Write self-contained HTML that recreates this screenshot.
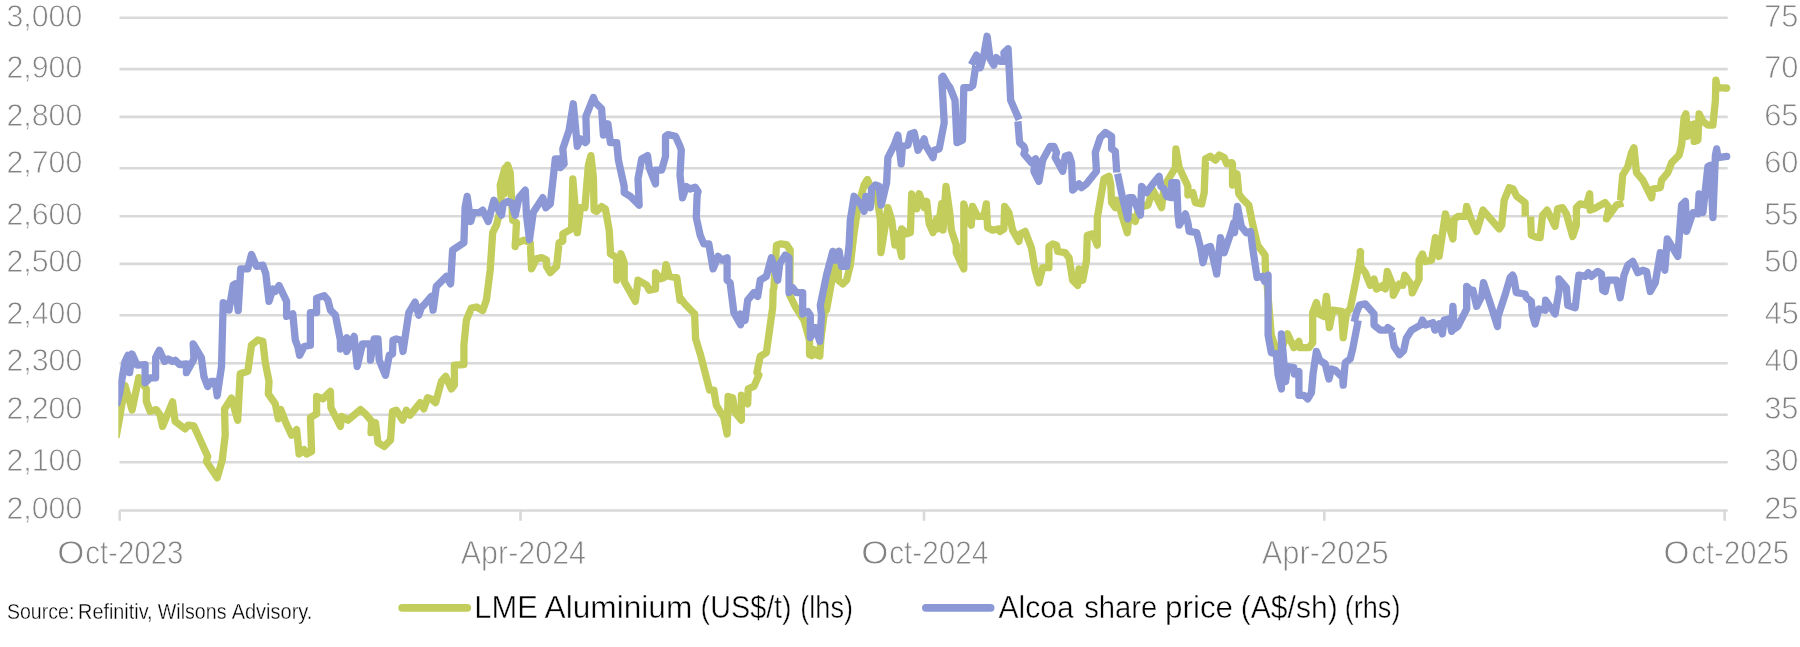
<!DOCTYPE html>
<html><head><meta charset="utf-8"><title>Chart</title>
<style>
html,body{margin:0;padding:0;background:#fff;}
body{width:1800px;height:647px;overflow:hidden;font-family:"Liberation Sans",sans-serif;}
svg{display:block;}
text{font-family:"Liberation Sans",sans-serif;filter:grayscale(1);}
.ax{fill:#828282;font-size:31.5px;stroke:#fff;stroke-width:0.8px;}
.xl{fill:#828282;font-size:32.8px;stroke:#fff;stroke-width:0.8px;}
.lg{fill:#000;font-size:30.7px;stroke:#fff;stroke-width:0.45px;}
.src{fill:#000;font-size:21.8px;stroke:#fff;stroke-width:0.35px;}
</style></head><body>
<svg width="1800" height="647" viewBox="0 0 1800 647">
<rect width="1800" height="647" fill="#ffffff"/>
<defs><clipPath id="pc"><rect x="118.3" y="0" width="1612" height="520"/></clipPath></defs>
<g stroke="#d9d9d9" stroke-width="2.6" fill="none">
<line x1="119.5" y1="17.7" x2="1727.7" y2="17.7"/>
<line x1="119.5" y1="69.1" x2="1727.7" y2="69.1"/>
<line x1="119.5" y1="116.9" x2="1727.7" y2="116.9"/>
<line x1="119.5" y1="168.3" x2="1727.7" y2="168.3"/>
<line x1="119.5" y1="216.2" x2="1727.7" y2="216.2"/>
<line x1="119.5" y1="263.9" x2="1727.7" y2="263.9"/>
<line x1="119.5" y1="315.3" x2="1727.7" y2="315.3"/>
<line x1="119.5" y1="363.3" x2="1727.7" y2="363.3"/>
<line x1="119.5" y1="414.7" x2="1727.7" y2="414.7"/>
<line x1="119.5" y1="462.3" x2="1727.7" y2="462.3"/>
<line x1="119.5" y1="510.5" x2="1727.7" y2="510.5"/>
<line x1="119.7" y1="510.5" x2="119.7" y2="520.8"/>
<line x1="520.5" y1="510.5" x2="520.5" y2="520.8"/>
<line x1="924" y1="510.5" x2="924" y2="520.8"/>
<line x1="1324.3" y1="510.5" x2="1324.3" y2="520.8"/>
<line x1="1724.6" y1="510.5" x2="1724.6" y2="520.8"/>
</g>
<text class="ax" x="6.50" y="26.7" textLength="75.80" lengthAdjust="spacingAndGlyphs">3,000</text>
<text class="ax" x="1764.18" y="26.7" textLength="34.36" lengthAdjust="spacingAndGlyphs">75</text>
<text class="ax" x="6.50" y="78.0" textLength="75.80" lengthAdjust="spacingAndGlyphs">2,900</text>
<text class="ax" x="1764.18" y="78.0" textLength="34.36" lengthAdjust="spacingAndGlyphs">70</text>
<text class="ax" x="6.50" y="125.6" textLength="75.80" lengthAdjust="spacingAndGlyphs">2,800</text>
<text class="ax" x="1764.18" y="125.6" textLength="34.36" lengthAdjust="spacingAndGlyphs">65</text>
<text class="ax" x="6.50" y="172.8" textLength="75.80" lengthAdjust="spacingAndGlyphs">2,700</text>
<text class="ax" x="1764.18" y="172.8" textLength="34.36" lengthAdjust="spacingAndGlyphs">60</text>
<text class="ax" x="6.50" y="224.5" textLength="75.80" lengthAdjust="spacingAndGlyphs">2,600</text>
<text class="ax" x="1764.18" y="224.5" textLength="34.36" lengthAdjust="spacingAndGlyphs">55</text>
<text class="ax" x="6.50" y="272.3" textLength="75.80" lengthAdjust="spacingAndGlyphs">2,500</text>
<text class="ax" x="1764.18" y="272.3" textLength="34.36" lengthAdjust="spacingAndGlyphs">50</text>
<text class="ax" x="6.50" y="324.0" textLength="75.80" lengthAdjust="spacingAndGlyphs">2,400</text>
<text class="ax" x="1764.80" y="324.0" textLength="34.10" lengthAdjust="spacingAndGlyphs">45</text>
<text class="ax" x="6.50" y="371.1" textLength="75.80" lengthAdjust="spacingAndGlyphs">2,300</text>
<text class="ax" x="1764.80" y="371.1" textLength="34.10" lengthAdjust="spacingAndGlyphs">40</text>
<text class="ax" x="6.50" y="419.2" textLength="75.80" lengthAdjust="spacingAndGlyphs">2,200</text>
<text class="ax" x="1764.18" y="419.2" textLength="34.36" lengthAdjust="spacingAndGlyphs">35</text>
<text class="ax" x="6.50" y="471.1" textLength="75.80" lengthAdjust="spacingAndGlyphs">2,100</text>
<text class="ax" x="1764.18" y="471.1" textLength="34.36" lengthAdjust="spacingAndGlyphs">30</text>
<text class="ax" x="6.50" y="519.4" textLength="75.80" lengthAdjust="spacingAndGlyphs">2,000</text>
<text class="ax" x="1764.18" y="519.4" textLength="34.36" lengthAdjust="spacingAndGlyphs">25</text>
<text class="xl" x="57.20" y="563.6" textLength="27.18" lengthAdjust="spacingAndGlyphs">O</text>
<text class="xl" x="85.20" y="563.6" textLength="98.30" lengthAdjust="spacingAndGlyphs">ct-2023</text>
<text class="xl" x="460.76" y="563.6" textLength="125.30" lengthAdjust="spacingAndGlyphs">Apr-2024</text>
<text class="xl" x="861.20" y="563.6" textLength="27.18" lengthAdjust="spacingAndGlyphs">O</text>
<text class="xl" x="889.20" y="563.6" textLength="99.00" lengthAdjust="spacingAndGlyphs">ct-2024</text>
<text class="xl" x="1261.77" y="563.6" textLength="127.01" lengthAdjust="spacingAndGlyphs">Apr-2025</text>
<text class="xl" x="1663.50" y="563.6" textLength="26.00" lengthAdjust="spacingAndGlyphs">O</text>
<text class="xl" x="1691.50" y="563.6" textLength="97.50" lengthAdjust="spacingAndGlyphs">ct-2025</text>
<text class="src" x="6.94" y="618.6" textLength="67.40" lengthAdjust="spacingAndGlyphs">Source:</text>
<text class="src" x="78.10" y="618.6" textLength="74.50" lengthAdjust="spacingAndGlyphs">Refinitiv,</text>
<text class="src" x="157.73" y="618.6" textLength="68.79" lengthAdjust="spacingAndGlyphs">Wilsons</text>
<text class="src" x="231.66" y="618.6" textLength="80.77" lengthAdjust="spacingAndGlyphs">Advisory.</text>
<text class="lg" x="474.34" y="617.8" textLength="63.60" lengthAdjust="spacingAndGlyphs">LME</text>
<text class="lg" x="544.56" y="617.8" textLength="147.79" lengthAdjust="spacingAndGlyphs">Aluminium</text>
<text class="lg" x="700.60" y="617.8" textLength="91.10" lengthAdjust="spacingAndGlyphs">(US$/t)</text>
<text class="lg" x="800.30" y="617.8" textLength="52.70" lengthAdjust="spacingAndGlyphs">(lhs)</text>
<text class="lg" x="998.49" y="617.8" textLength="75.20" lengthAdjust="spacingAndGlyphs">Alcoa</text>
<text class="lg" x="1084.13" y="617.8" textLength="73.17" lengthAdjust="spacingAndGlyphs">share</text>
<text class="lg" x="1165.03" y="617.8" textLength="68.02" lengthAdjust="spacingAndGlyphs">price</text>
<text class="lg" x="1240.80" y="617.8" textLength="96.90" lengthAdjust="spacingAndGlyphs">(A$/sh)</text>
<text class="lg" x="1344.80" y="617.8" textLength="55.60" lengthAdjust="spacingAndGlyphs">(rhs)</text>
<line x1="402.2" y1="607.8" x2="467.2" y2="607.8" stroke="#c2cd5c" stroke-width="7.8" stroke-linecap="round"/>
<line x1="925.9" y1="607.8" x2="990.6" y2="607.8" stroke="#8c98d5" stroke-width="7.8" stroke-linecap="round"/>
<path clip-path="url(#pc)" d="M116,437.7 L119,421.4 L125,385.6 L132.1,410.1 L138.8,377.6 L146.3,388.9 L146.3,401.4 L150.1,411.4 L156.3,409.6 L160.1,415.1 L162.6,426.4 L172.6,401.9 L175.1,421.4 L180.1,425.2 L185.1,428.9 L188.2,425.2 L193.9,425.9 L207.7,456.5 L206.4,461.5 L217.2,477.8 L222.2,460.2 L225.2,435.2 L224.5,408.9 L231.5,398.1 L237.7,420.2 L240.2,373.8 L247.8,371.3 L251.5,345 L257.8,340 L262.8,341.3 L265.3,362.6 L269,381.3 L268.3,393.9 L275.3,403.9 L278.3,418.9 L280.8,409.6 L285.3,421.4 L291.6,435.2 L296.6,429.7 L299.1,454 L304.1,449.7 L306.6,454 L311.6,451.5 L310.4,417.7 L316.6,413.9 L316.6,396.4 L322.9,398.9 L330.4,391.4 L330.9,407.6 L340.4,426.4 L341.7,416.4 L347.9,420.2 L360.5,409.6 L365.5,413.9 L371.7,421.4 L371,432.7 L375.5,422.7 L378,442.7 L384.2,446.5 L390.5,440.2 L392.5,411.4 L396.3,410.2 L402.5,420.2 L406.3,410.2 L410.1,415.2 L420.1,402.7 L423.8,408.9 L427.6,397.7 L431.3,398.9 L435.6,402.7 L441.4,381.4 L445.6,376.4 L451.4,388.9 L454.4,385.1 L454.4,365.1 L463.9,364.6 L463.9,345.1 L466.4,320 L471.4,308 L476.4,307 L482.7,310.5 L486.4,300 L490.2,270.1 L492.7,232.6 L496.5,225 L501.5,205 L500.2,185.2 L505,167.9 L504.2,193.9 L507.7,165.1 L510.2,172.6 L512.7,220.2 L516.5,222.7 L515.2,246.5 L515.2,243.8 L524,240.1 L530.3,242.6 L531.5,268.9 L536.5,258.9 L541.5,257.6 L546.5,260.1 L546.5,266.4 L550.3,272.6 L556.6,266.4 L559.1,242.6 L562.8,241.3 L562.8,233.8 L571.6,228.8 L571.6,229 L572.8,178.9 L577.3,232.7 L580.4,207.7 L584.9,207.7 L588.4,165.1 L590.9,155.6 L593.4,177.7 L594.1,210.2 L596.6,211.5 L601.6,206.5 L605.4,209 L609.2,230.2 L610.4,250.3 L610.4,253.8 L616.7,257.6 L616.7,280.1 L620.9,253.8 L624.2,262.6 L624.2,281.4 L635.4,301.4 L638,280.1 L646.7,285.1 L649.2,290.2 L655.5,288.9 L655.5,272.6 L660.5,278.9 L664.2,277.6 L666,264.6 L669.3,276.4 L676.8,277.6 L680,300.2 L679.5,296.5 L683.8,302.7 L694.6,314 L694.6,313.8 L695.6,338.8 L700.6,355.1 L709.6,390.2 L713.8,390.2 L716.3,405.2 L723.9,417.7 L727.1,434 L728.1,396.4 L732.6,397.7 L735.1,412.7 L741.4,420.2 L741.4,395.2 L747.7,403.9 L748.2,388.9 L753.9,386.4 L758.9,375.1 L756.9,372.6 L760.2,356.4 L766.4,352.6 L770.2,325.1 L772.7,307.5 L773.2,290 L773.9,287.7 L776.5,245.1 L780.2,243.9 L786.5,244.6 L790.2,250.1 L789.7,295.2 L795.2,306.5 L804,320.3 L809.5,340.1 L809.5,354.6 L811.8,355.6 L814,349.6 L815.8,354.6 L819.8,356.1 L820.8,340.1 L824,315 L828.3,290 L826.5,310.2 L832.8,275.2 L835.3,252.6 L839.1,251.4 L838.3,280.2 L842.8,283.9 L846.6,280.2 L850.3,265.2 L854.1,232.6 L857.8,207.6 L864.1,185 L867.4,179.5 L870.4,186.3 L877.9,202.6 L880.4,220.1 L880.9,252.6 L884.1,232.6 L887.9,207.6 L891.7,220.1 L894.9,245.1 L896.7,233.9 L901.7,256.4 L901.7,228.9 L906.7,233.9 L910.4,232.6 L911.7,193.8 L916.7,208.8 L919.2,193.8 L924.2,207.6 L926.7,201.3 L929.2,223.8 L933,232.6 L936.7,218.8 L938,228.9 L941.7,203.8 L943,230.1 L946,186.3 L950,215.1 L951.3,230.2 L956.3,245.2 L956.3,252.7 L963.8,269 L963.8,203.9 L967,215.1 L971.3,225.2 L972.6,206.4 L977.6,216.4 L983.8,216.4 L986.3,203.9 L987.6,227.7 L992.6,230.2 L998.9,228.9 L1000.1,231.4 L1003.9,228.9 L1004.6,206.4 L1008.9,212.6 L1012.6,230.2 L1018.9,241.4 L1020.1,233.9 L1025.1,231.4 L1031.4,247.7 L1035.2,270.2 L1038.9,282.8 L1042.7,267.7 L1048.9,267.7 L1048.9,246.5 L1052.7,243.9 L1056.5,245.2 L1057.7,251.5 L1065.2,252.7 L1069,257.7 L1072.7,280.3 L1077.7,285.3 L1079,269 L1082.7,280.3 L1086.5,260.2 L1087.3,235.2 L1092.8,233.9 L1097.3,245.2 L1097.3,217.7 L1104,178.8 L1109,176.3 L1110.8,185.1 L1111.6,202.6 L1115.3,207.6 L1116.6,200.1 L1120.3,210.1 L1127.3,232.7 L1129.1,215.1 L1135.3,221.4 L1139.1,207.6 L1142.9,206.4 L1147.9,205.1 L1152.9,190.1 L1161.6,207.6 L1164.1,186.3 L1175.4,167.6 L1175.9,148.8 L1179.2,167.6 L1187.9,186.3 L1187.9,195.1 L1192.9,192.6 L1195.4,202.6 L1201.7,203.9 L1204.2,192.6 L1205.5,158.8 L1210.5,156.3 L1215.5,160.1 L1219.2,155 L1224.2,157.5 L1226.8,163.8 L1231.8,162.6 L1232.5,163.8 L1232.5,185.1 L1237,173.8 L1238.8,193.9 L1242.5,198.9 L1248.8,205.1 L1252.6,223.9 L1257.6,245.2 L1265.1,255.2 L1265.6,274 L1266.3,275 L1271.3,335.1 L1276.3,350.2 L1281.4,348.9 L1287.6,333.9 L1293.9,347.7 L1298.9,341.4 L1300.1,347.7 L1308.9,347.7 L1312.7,342.7 L1312.7,312.6 L1316.4,302.6 L1318.9,313.9 L1323.9,316.4 L1326.4,296.3 L1329.4,327.6 L1332.7,310.1 L1341.5,311.4 L1343.2,337.7 L1346.5,312.6 L1350.2,308.9 L1356.5,277.5 L1360.7,252.5 L1360.2,251.5 L1360.7,266.5 L1365.3,272.7 L1370.3,285.3 L1374,279 L1376.5,289 L1382.8,285.3 L1385.3,289 L1387.3,271.5 L1392.8,285.3 L1393.3,295.3 L1399.1,284 L1402.8,285.3 L1404.8,275.3 L1411.6,285.3 L1412.3,292.8 L1419.1,279 L1419.1,260.2 L1422.4,254 L1424.1,259 L1425.4,261.5 L1431.6,260.2 L1435.4,237.7 L1439.1,256.5 L1445.4,213.9 L1452.9,238.9 L1454.2,218.9 L1457.9,216.4 L1465.4,216.4 L1466.7,206.4 L1470.4,217.7 L1476.7,231.4 L1483,210.1 L1499.2,228.9 L1501.7,225.2 L1504.2,200.1 L1509.3,187.6 L1513,188.9 L1516.8,196.4 L1525.1,202.6 L1525.3,216.6 M1530.6,216.6 L1531.3,235.1 L1536.3,237.1 L1540.1,237.6 L1542.6,215.1 L1547.1,210.1 L1555.1,226.3 L1557.6,208.8 L1562.6,207.6 L1566.4,213.8 L1572.7,236.4 L1576.4,225.1 L1576.4,207.6 L1580.2,203.8 L1586.4,205.1 L1589.7,193.8 L1590.2,210.1 L1593.9,208.8 L1602.7,203.8 L1605.2,202.6 L1609,207.6 L1606.5,218.8 L1616.5,205.1 L1623.3,203.1 M1620.5,200.1 L1622.7,175.2 L1627.8,166.5 L1631.5,152.7 L1634,147.7 L1636.5,172.7 L1642.8,180.2 L1651.6,197.8 L1652.8,189 L1660.3,187.7 L1661.6,180.2 L1667.8,172.7 L1671.6,162.7 L1679.1,155.2 L1681.6,145.2 L1684.1,117.6 L1685.9,113.9 L1687.4,136.4 L1690.4,125.1 L1694.1,123.9 L1694.1,141.4 L1697.9,140.2 L1699.1,113.9 L1702.9,121.4 L1707.9,125.1 L1712.9,125.1 L1715.4,100.1 L1715.9,80.1 L1717.4,87.6 L1726.7,88.1" fill="none" stroke="#c2cd5c" stroke-width="7.3" stroke-linejoin="round" stroke-linecap="butt"/>
<circle cx="1726.7" cy="88.1" r="3.65" fill="#c2cd5c"/>
<path clip-path="url(#pc)" d="M116.5,405.3 L119.5,393.8 L125,361.5 L128,355.2 L129.6,372.7 L132.1,354 L137.1,365.2 L145.1,364.7 L145.1,382.8 L150.1,377.8 L155.6,377.8 L155.6,357.7 L159.4,350.2 L164.6,361.5 L168.1,359 L172.6,361.5 L175.1,360.2 L179.6,364.7 L186.4,364 L186.4,372.7 L193.9,359 L193.2,343.9 L201.4,357.7 L203.9,376.5 L207.7,386.5 L211.4,381.5 L215.2,381.5 L217.2,395.8 L221.5,366.5 L223.2,302.6 L229,306.4 L229,310.1 L233.2,285.1 L235.2,283.8 L238.2,310.6 L240.7,268.8 L247.8,268.8 L251.5,254.5 L256.5,266.3 L262.8,265.1 L265.8,273.8 L269,301.4 L272.8,288.9 L275.3,291.4 L279.1,285.6 L286.6,301.4 L286.6,316.4 L290.3,315.1 L292.8,313.9 L295.3,340.2 L297.8,346.5 L299.6,355.2 L304.1,346.5 L310.4,345.2 L310.4,312.6 L316.6,312.6 L316.6,298.1 L324.1,295.6 L327.9,300.1 L330.4,310.1 L335.4,315.1 L340.4,340.2 L340.4,349 L346.7,337.7 L346.7,351.5 L354.2,336.4 L357.2,366.5 L362.5,343.9 L370.5,343.9 L370.5,360.2 L374.2,338.9 L378,338.9 L379.2,360.2 L385.5,375.3 L389.3,355.2 L392.5,354 L393,340.2 L396.3,339 L401.3,340.2 L403,351.5 L408.8,312.7 L415.1,302.2 L418.8,315.2 L421.3,307.7 L423.8,305.2 L431.3,296.4 L433.1,310.2 L436.3,286.4 L441.4,281.4 L446.4,276.4 L450.6,283.9 L452.6,250.1 L463.9,242.6 L465.1,207.5 L467.2,196.4 L470.7,221.5 L473.2,212.7 L478.9,212.7 L482.7,210.2 L488.2,221.5 L493.9,200.2 L497.2,207.7 L501.5,215.2 L503.2,203.9 L507.7,201.4 L511.5,202.7 L515.2,215.2 L519,197.7 L525.3,190.2 L526.5,215.2 L529.5,239.8 L533.3,212.2 L542.8,197.7 L545.8,207.7 L550.3,203.9 L555.3,158.9 L559.1,158.9 L560.3,167.6 L564.1,163.9 L562.8,148.9 L569.1,130.1 L573.3,103.8 L577.3,146.3 L580.4,138.8 L585.4,142.6 L586.6,141.3 L585.9,116.3 L593.4,97.5 L595.4,102.5 L601.6,108.8 L603.4,135.1 L607.9,123.8 L610.4,142.6 L616.7,142.6 L618.4,160.1 L624.2,186.4 L624.2,192.7 L630.4,196.4 L639.2,205.2 L638,178.9 L641.7,158.9 L647.5,155.6 L649.2,167.6 L655.5,183.9 L655.5,170.1 L661.7,170.1 L665.5,156.4 L665.5,136.3 L668,134.6 L675.5,136.3 L680,146.3 L681.3,150.2 L680,175.2 L682.5,197.8 L686.3,186.5 L690.1,189 L695.1,187.2 L698.1,191.5 L697.1,195 L696.3,217.6 L700.1,235.1 L703.8,243.9 L708.8,243.9 L713.1,268.9 L718.1,256.4 L722.1,260.2 L727.1,257.7 L727.1,280.2 L730.1,282.7 L733.9,312.7 L740.6,324.8 L740.6,314 L745.1,320.3 L747.7,300.2 L753.9,292.7 L757.7,296.5 L760.2,280.2 L766.4,276.4 L771.4,257.7 L777.7,280.2 L779.7,263.9 L785.2,255.1 L789,257.7 L789,292.7 L792.7,287.7 L796.5,292.7 L802.7,292.7 L802.7,314 L807.8,311.5 L810.3,315.3 L810.3,337.6 L815.3,327.6 L819.8,341.3 L821.5,315 L820.3,305.2 L826.5,275.2 L832.8,251.4 L835.3,260.2 L839.1,251.4 L841.6,266.4 L846.6,266.4 L849.1,245.1 L850.3,220.1 L854.1,196.3 L860.4,203.8 L864.1,211.3 L865.9,196.3 L870.4,207.6 L871.6,188.8 L875.4,185 L879.1,186.3 L881.1,205.1 L881.6,204 L886.6,182.7 L887.9,157.7 L894.2,145.2 L897.9,135.1 L901.2,163.9 L902.4,146.4 L907.9,145.2 L910.4,133.9 L914.2,132.6 L918,150.2 L924.2,138.9 L925.5,145.2 L933,157.7 L934.2,150.2 L939.2,148.9 L944.2,122.6 L941.7,77.5 L943,76.3 L948,85.1 L950,87.6 L955,100.1 L957,142.7 L962.5,140.2 L963.8,87.6 L970.1,87.6 L972.8,85.6 L975.8,65.8 M971.3,64.8 L976.6,55.1 L980.3,67.8 L983.8,55.1 L987.1,36.3 L990.1,58.8 L993.8,65.1 L996.3,57.6 L1000.1,61.3 L1004.6,61.3 L1003.9,52.6 L1008.1,48.8 L1009.6,77.6 L1010.6,100.1 L1019.1,119.7 M1017.9,121.4 L1019.6,142.7 L1023.9,146.5 L1025.1,150.2 L1023.9,153.8 L1031.4,162.6 L1035.7,158.8 L1033.9,171.3 L1038.9,181.3 L1042.7,160.1 L1050.2,146.3 L1053.9,146.3 L1056.5,152.5 L1055.2,157.5 L1062.7,171.3 L1065.2,156.3 L1069,155 L1071.5,162.6 L1072.7,190.1 L1079,183.8 L1081.5,187.6 L1086.5,183.8 L1096.5,171.3 L1095.3,152.5 L1100.3,137.5 L1105.3,132.5 L1111.6,136.3 L1111.6,148.8 L1115.3,151.3 L1116.8,172.6 M1117.6,173.8 L1122.8,198.9 L1127.8,218.9 L1129.1,197.6 L1132.8,197.6 L1140.4,215.1 L1141.6,186.3 L1146.6,192.6 L1152.9,183.8 L1159.1,176.3 L1160.9,186.3 L1164.1,188.9 L1166.6,196.4 L1171.7,197.6 L1171.7,182.6 L1176.7,182.6 L1177.9,213.9 L1179.2,225.2 L1185.4,213.9 L1187.9,222.7 L1189.2,231.4 L1196.7,232.7 L1200.5,247.7 L1203,262.7 L1206.7,247.7 L1210.5,246.5 L1216.7,274 L1220.5,237.7 L1224.2,252.7 L1231.8,230.2 L1233.8,222.7 L1234.5,232.7 L1237.5,206.4 L1241.3,226.4 L1246.3,232.7 L1250.6,231.4 L1252.6,247.7 L1257.1,277.5 L1262.6,276.3 L1264.6,281.3 L1268.1,275 L1268.1,335.1 L1271.3,352.7 L1276.3,353.9 L1278.1,375.2 L1281.4,389 L1281.4,333.9 L1285.6,381.5 L1287.6,366.5 L1293.9,367.7 L1294.4,374 L1298.9,371.5 L1298.9,395.3 L1303.9,395.3 L1307.7,399 L1311.4,392.7 L1313.2,372.7 L1316.4,351.4 L1319.7,360.2 L1325.2,363.9 L1328.9,379 L1331.4,369 L1335.2,370.2 L1342.7,377.7 L1343.2,385.2 L1345.2,362.7 L1350.2,358.9 L1352.7,348.9 L1358.2,320.4 M1354.2,321.9 L1356.5,312.6 L1359.5,305.1 L1365.3,303.8 L1374,313.9 L1374,325.1 L1380.3,330.1 L1386.5,330.1 L1387.8,327.6 L1393.3,331.4 M1391.8,332.6 L1394.1,346.4 L1399.6,354.7 L1403.6,350.7 L1406.3,338.2 L1411.6,330.1 L1420.4,325.1 L1422.4,320.1 L1425.4,325.1 L1432.9,322.6 L1434.9,330.1 L1439.1,323.9 L1442.4,333.9 L1444.1,320.1 L1449.2,318.9 L1451.7,331.4 L1452.9,306.3 L1454.2,328.9 L1457.9,326.4 L1466.7,308.9 L1466.7,286.3 L1470.4,290.1 L1472.9,290.1 L1476.7,306.3 L1481.7,296.3 L1483.5,282.6 L1491.3,306.5 L1497.5,326.5 L1498,316.5 L1505,295.2 L1510.1,277.7 L1512.6,275.2 L1513.8,277.7 L1516.3,292.7 L1525.1,294 L1526.3,297.7 L1531.3,301.5 L1532.6,315.3 L1535.1,324 L1538.9,309 L1545.1,310.2 L1545.6,300.2 L1555.1,314 L1559.6,287.7 L1558.9,278.9 L1566.4,287.7 L1567.7,305.2 L1575.2,307.7 L1578.9,275.2 L1585.2,276.4 L1588.2,272.7 L1591.4,276.4 L1597.7,271.4 L1601.5,273.9 L1602.7,290.2 L1605.2,291.5 L1607.7,280.2 L1616.5,280.2 L1620.2,297.7 L1624,275.2 L1627.8,265.2 L1632.8,261.4 L1637.8,272.7 L1642.8,270.2 L1646.5,271.4 L1650.3,291.5 L1655.3,282.7 L1660.3,252.6 L1664.8,270.2 L1667.3,238.9 L1677.8,256.4 L1681.6,205.1 L1685.4,201.3 L1686.6,231.4 L1692.9,212.6 L1697.9,213.8 L1699.1,193.8 L1702.9,212.6 L1707.9,166.5 L1710.4,165.2 L1712.9,217.6 L1715.4,155.2 L1716.7,148.9 L1717.9,157.7 L1726.7,156.4" fill="none" stroke="#8c98d5" stroke-width="7.3" stroke-linejoin="round" stroke-linecap="butt"/>
<circle cx="1726.7" cy="156.4" r="3.65" fill="#8c98d5"/>
</svg>
</body></html>
